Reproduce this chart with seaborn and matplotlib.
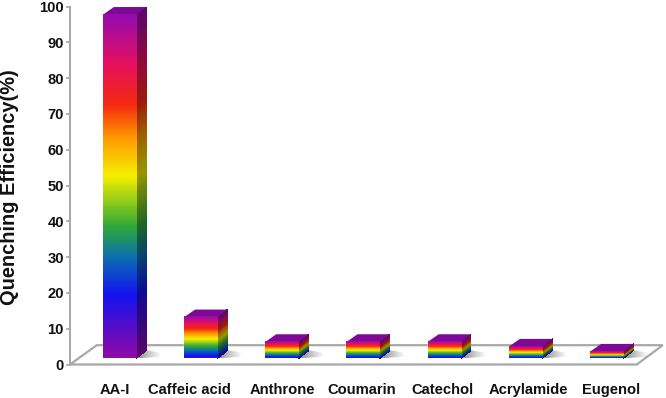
import numpy as np
import pandas as pd
import matplotlib
matplotlib.use("Agg")
import matplotlib.pyplot as plt
import seaborn as sns
from matplotlib.colors import LinearSegmentedColormap
from matplotlib.collections import PolyCollection
from matplotlib.patches import Polygon
from matplotlib.transforms import ScaledTranslation

categories = ["AA-I", "Caffeic acid", "Anthrone", "Coumarin", "Catechol", "Acrylamide", "Eugenol"]
values = [96.0, 11.5, 4.6, 4.6, 4.6, 3.3, 1.9]
y_ticks = list(range(0, 101, 10))
base_level = 1.7
label_shift_px = [-5, -11, 0, -1, -2, 3, 4]

sns.set_theme(style="white")
plt.rcParams["font.family"] = ["Liberation Sans", "DejaVu Sans"]

W, H = 666, 398
fig = plt.figure(figsize=(W / 100, H / 100), dpi=100)
ax = fig.add_axes([70 / W, 1 - 364.5 / H, (W - 70) / W, 358 / H])

df = pd.DataFrame({"name": categories, "value": values})
sns.barplot(data=df, x="name", y="value", ax=ax, width=0.41, color="#8a0ca8",
            bottom=base_level, saturation=1, zorder=3)
ax.set_xlim(-0.61, 6.73)
ax.set_ylim(0, 100)

stops = [(0.0, "#8f0aa8"), (0.18, "#1212f0"), (0.29, "#0a6fb0"), (0.38, "#2fa838"),
         (0.53, "#f5f000"), (0.64, "#ff9a00"), (0.74, "#f52a10"), (0.86, "#e5105f"), (1.0, "#960ab0")]
cmap = LinearSegmentedColormap.from_list("rainbow3d", stops, N=256)

DX = 10 / 81.2
DY = 2.15
N = 120


def dark(c, f=0.62):
    return tuple(v * f for v in c[:3])


# floor
floor = Polygon([(-0.61, 0), (6.37, 0), (6.69, 5.4), (-0.28, 5.4)], closed=True, facecolor="white",
                edgecolor="#a8a8a8", linewidth=1.6, zorder=1, clip_on=False)
ax.add_patch(floor)

for i, (patch, v) in enumerate(zip(ax.patches[:len(values)], values)):
    x0, w = patch.get_x(), patch.get_width()
    y0, y1 = base_level, base_level + v
    start = 0.0 if v > 50 else 0.14
    fr = np.linspace(start, 1, N)
    img = cmap(fr)[:, None, :]
    # shadow on the floor
    sh_len = 0.30
    sh = np.zeros((2, 60, 4))
    sh[..., :3] = 0.45
    sh[..., 3] = np.linspace(0.85, 0, 60)
    im = ax.imshow(sh, extent=(x0 + w, x0 + w + sh_len, y0, y0 + 2.8), aspect="auto", zorder=2,
                   interpolation="bilinear")
    im.set_clip_path(Polygon([(x0 + w, y0), (x0 + w + sh_len, y0 + 0.5), (x0 + w + sh_len, y0 + 1.6),
                              (x0 + w, y0 + 2.8)], transform=ax.transData))
    # side face
    ys = np.linspace(y0, y1, N + 1)
    polys = [[(x0 + w, ys[k]), (x0 + w + DX, ys[k] + DY), (x0 + w + DX, ys[k + 1] + DY), (x0 + w, ys[k + 1])]
             for k in range(N)]
    side = PolyCollection(polys, facecolors=[dark(cmap(f)) for f in fr], edgecolors="none", zorder=3)
    side.set_antialiased(False)
    ax.add_collection(side)
    # top face
    ax.add_patch(Polygon([(x0, y1), (x0 + DX * 1.1, y1 + DY), (x0 + w + DX, y1 + DY), (x0 + w, y1)],
                         closed=True, facecolor="#7d0a96", edgecolor="none", zorder=3))
    # front face
    ax.imshow(img[::-1], extent=(x0, x0 + w, y0, y1), aspect="auto", zorder=4, interpolation="bilinear")

ax.set_xlim(-0.61, 6.73)
ax.set_ylim(0, 100)
ax.set_yticks(y_ticks)
ax.set_xlabel("")
ax.set_ylabel("Quenching Efficiency(%)", fontsize=14.4, fontweight="bold", color="#111111")
ax.yaxis.set_label_coords(-(70 - 19) / (W - 70), 0.495)

for s in ["top", "right", "bottom"]:
    ax.spines[s].set_visible(False)
ax.spines["left"].set_color("#a8a8a8")
ax.spines["left"].set_linewidth(1.4)
ax.tick_params(axis="y", left=True, length=3, width=1.2, color="#a8a8a8", pad=1.5,
               labelsize=10.6, labelcolor="#111111")
ax.tick_params(axis="x", bottom=False, length=0, pad=13, labelsize=10.6, labelcolor="#111111")
for lab in ax.get_yticklabels():
    lab.set_fontweight("bold")
for lab, dx in zip(ax.get_xticklabels(), label_shift_px):
    lab.set_fontweight("bold")
    lab.set_transform(lab.get_transform() + ScaledTranslation(dx / 100, 0, fig.dpi_scale_trans))

fig.savefig("out.png", dpi=100, facecolor="white")
